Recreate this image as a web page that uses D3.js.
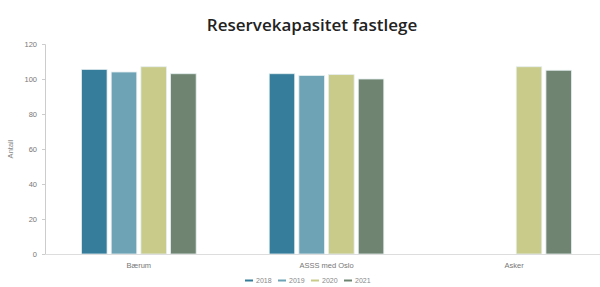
<!DOCTYPE html>
<html>
<head>
<meta charset="utf-8">
<script src="https://cdn.jsdelivr.net/npm/d3@7"></script>
<style>
  body { margin: 0; background: #fff; }
  svg { display: block; }
</style>
</head>
<body>
<svg id="chart" width="600" height="287"></svg>
<script>
// kommuner og år
const categories = ["Bærum", "ASSS med Oslo", "Asker"];
const years = ["2018", "2019", "2020", "2021"];
// verdier per år (null = ingen data)
const v2018 = [105.5, 103, null];
const v2019 = [104, 102, null];
const v2020 = [107, 102.5, 107];
const v2021 = [103, 100, 105];
const yTicks = [0, 20, 40, 60, 80, 100, 120];
const colors = ["#367c9b", "#6ea3b6", "#c9cb8a", "#6f8571"];

const series = [v2018, v2019, v2020, v2021];
const rows = categories.map((c, i) => ({
    name: c,
    values: years.map((y, j) => ({ year: y, value: series[j][i], color: colors[j] }))
}));

const svg = d3.select("#chart");
const marginLeft = 45, baseY = 254, topY = 44;

const x0 = d3.scaleBand().domain(categories).range([marginLeft, 608]).paddingInner(0).paddingOuter(0);
const x1 = d3.scaleBand().domain(years).range([0, x0.bandwidth()]).paddingInner(0.14).paddingOuter(1.23);
const y = d3.scaleLinear().domain([0, 120]).range([baseY, topY]);

// tittel
svg.append("text")
    .attr("x", 312).attr("y", 31)
    .attr("text-anchor", "middle")
    .style("font", "600 17px 'Open Sans', sans-serif")
    .attr("fill", "#222")
    .text("Reservekapasitet fastlege");

// y-akse
const yAxis = svg.append("g")
    .attr("transform", `translate(${marginLeft},0)`)
    .call(d3.axisLeft(y).tickValues(yTicks).tickSize(3).tickPadding(5));
yAxis.select(".domain").attr("stroke", "#ccc");
yAxis.selectAll(".tick line").attr("stroke", "#ccc");
yAxis.selectAll(".tick text").attr("fill", "#777").style("font", "7.5px 'Liberation Sans', Arial, sans-serif");

svg.append("text")
    .attr("transform", `translate(13,${(topY + baseY) / 2}) rotate(-90)`)
    .attr("text-anchor", "middle")
    .attr("fill", "#888")
    .style("font", "7.5px 'Liberation Sans', Arial, sans-serif")
    .text("Antall");

// søyler
const group = svg.selectAll("g.cat")
    .data(rows)
    .join("g")
    .attr("class", "cat")
    .attr("transform", d => `translate(${x0(d.name)},0)`);

group.selectAll("rect")
    .data(d => d.values.filter(v => v.value != null))
    .join("rect")
    .attr("x", d => x1(d.year))
    .attr("y", d => y(d.value))
    .attr("width", x1.bandwidth())
    .attr("height", d => baseY - y(d.value))
    .attr("fill", d => d.color)
    .attr("stroke", "#e4eef0")
    .attr("stroke-width", 0.8);

// x-akse
svg.append("line")
    .attr("x1", marginLeft).attr("x2", 600)
    .attr("y1", baseY + 0.5).attr("y2", baseY + 0.5)
    .attr("stroke", "#ddd");

svg.selectAll("text.cat")
    .data(categories)
    .join("text")
    .attr("class", "cat")
    .attr("x", d => x0(d) + x0.bandwidth() / 2)
    .attr("y", 268)
    .attr("text-anchor", "middle")
    .attr("fill", "#777")
    .style("font", "7.5px 'Liberation Sans', Arial, sans-serif")
    .text(d => d);

// forklaring
const legend = svg.append("g").attr("transform", "translate(245,283)");
const item = legend.selectAll("g")
    .data(years)
    .join("g")
    .attr("transform", (d, i) => `translate(${i * 33},0)`);
item.append("line")
    .attr("x1", 0).attr("x2", 8)
    .attr("y1", -2.5).attr("y2", -2.5)
    .attr("stroke", (d, i) => colors[i])
    .attr("stroke-width", 2);
item.append("text")
    .attr("x", 11).attr("y", 0)
    .attr("fill", "#888")
    .style("font", "7px 'Liberation Sans', Arial, sans-serif")
    .text(d => d);
</script>
</body>
</html>
